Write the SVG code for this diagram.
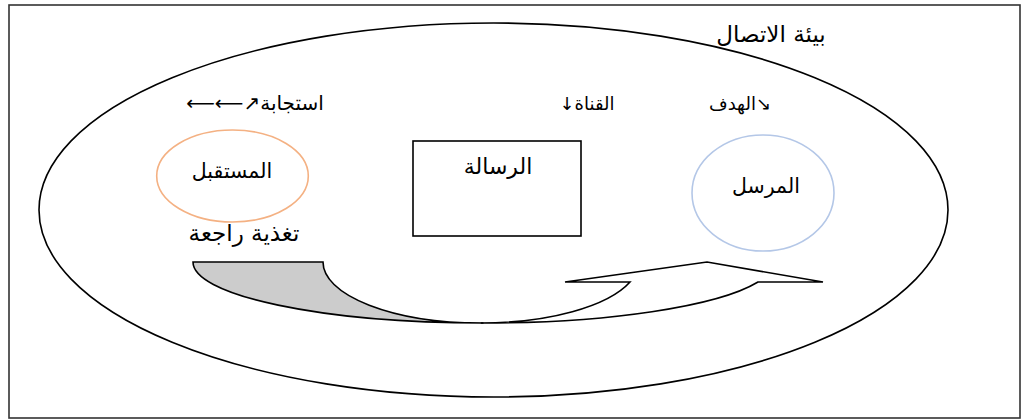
<svg xmlns="http://www.w3.org/2000/svg" width="1022" height="419" viewBox="0 0 1022 419">
<style>
text{font-family:"DejaVu Sans","Liberation Sans",sans-serif;fill:#000;text-anchor:middle;direction:rtl}
.top{font-size:18px}
.in{font-size:20.5px}
.ln{fill:none;stroke:#000;stroke-width:1.6}
</style>
<rect width="1022" height="419" fill="#fff"/>
<g id="frame"><rect x="9" y="5" width="1011" height="413" fill="none" stroke="#333" stroke-width="1.6"/></g>
<g id="environment">
<ellipse class="ln" cx="493.5" cy="210" rx="454.5" ry="187"/>
<text x="771" y="42" font-size="23">بيئة الاتصال</text>
</g>
<g id="labels">
<text x="255" y="110" font-size="20">استجابة↗⟵⟵</text>
<text class="top" x="587" y="110">القناة↓</text>
<text class="top" x="740" y="110">↘الهدف</text>
<text x="244" y="241" font-size="23">تغذية راجعة</text>
</g>
<g id="receiver">
<ellipse cx="232.5" cy="176" rx="75.8" ry="46" fill="#fff" stroke="#F4B183" stroke-width="1.6"/>
<text class="in" x="232" y="178">المستقبل</text>
</g>
<g id="message">
<rect x="413" y="141" width="168" height="95" fill="#fff" stroke="#000" stroke-width="1.6"/>
<text x="498" y="174" font-size="22">الرسالة</text>
</g>
<g id="sender">
<ellipse cx="763" cy="193" rx="71" ry="58" fill="#fff" stroke="#B4C7E7" stroke-width="1.6"/>
<text class="in" x="766" y="193">المرسل</text>
</g>
<g id="connectors" stroke="#000" stroke-width="1.6" stroke-linejoin="miter">
<path d="M193,262 L323,262 A157.8,61 0 0 0 480.8,323 L483.5,323 A290.5,61 0 0 1 193,262 Z" fill="#CCCCCC"/>
<path d="M480.8,323 A157.8,61 0 0 0 630,282 L565,282 L707,262 L823,282 L758,282 A290.5,61 0 0 1 483.5,323 Z" fill="#fff"/>
</g>
</svg>
